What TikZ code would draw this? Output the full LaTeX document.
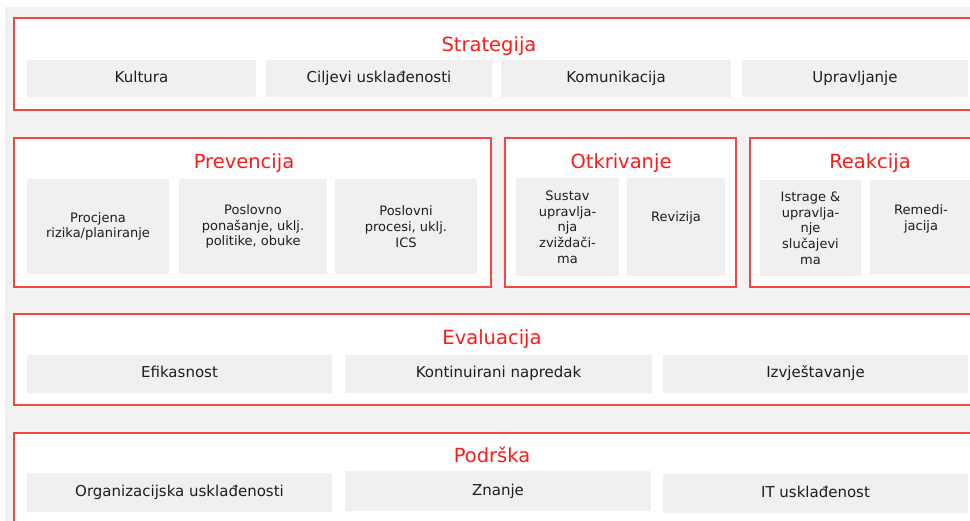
\documentclass[tikz,border=0pt]{standalone}
\usepackage{fontspec}
\setmainfont{DejaVu Sans}
\definecolor{bggray}{RGB}{242,242,242}
\definecolor{boxgray}{RGB}{240,240,240}
\definecolor{framered}{RGB}{245,70,70}
\definecolor{titlered}{RGB}{255,25,25}
\definecolor{txt}{RGB}{30,30,30}
\begin{document}
\begin{tikzpicture}[x=1pt,y=-1pt,
  frame/.style={draw=framered, line width=2pt, fill=white, inner sep=0pt, outer sep=0pt},
  inbox/.style={fill=boxgray, inner sep=0pt, outer sep=0pt, text=txt},
  big/.style={font=\fontsize{15}{18}\selectfont, text height=0.8em, text depth=0pt},
  small/.style={font=\fontsize{13}{15.7}\selectfont, align=center},
  lbl/.style={text=txt, inner sep=0pt, font=\fontsize{13}{15.7}\selectfont, align=center},
  title/.style={text=titlered, font=\fontsize{19.5}{23}\selectfont, anchor=base, inner sep=0pt}]
\useasboundingbox (0,0) rectangle (970,521);
\clip (0,0) rectangle (970,521);
\fill[white] (0,0) rectangle (970,521);
\fill[bggray] (5,7) rectangle (980,530);

% frames
\node[frame, minimum width=966, minimum height=92] (strat) at (497,64) {};
\node[frame, minimum width=477, minimum height=149] (prev) at (252.5,212.5) {};
\node[frame, minimum width=231, minimum height=149] (otkr) at (620.5,212.5) {};
\node[frame, minimum width=240, minimum height=149] (reak) at (870,212.5) {};
\node[frame, minimum width=966, minimum height=91] (eval) at (497,359.5) {};
\node[frame, minimum width=966, minimum height=107] (podr) at (497,486.5) {};

% titles
\node[title] (tstrat) at (489,52) {Strategija};
\node[title] (tprev) at (244,169) {Prevencija};
\node[title] (totkr) at (621,169) {Otkrivanje};
\node[title] (treak) at (870,169) {Reakcija};
\node[title] (teval) at (492,345) {Evaluacija};
\node[title] (tpodr) at (492,463) {Podrška};

% row 1
\node[inbox, big, minimum width=229, minimum height=37] (kult) at (141.5,78.5) {Kultura};
\node[inbox, big, minimum width=226, minimum height=37] (cilj) at (379,78.5) {Ciljevi usklađenosti};
\node[inbox, big, minimum width=230, minimum height=37] (komu) at (616,78.5) {Komunikacija};
\node[inbox, big, minimum width=226, minimum height=37] (uprav) at (855,78.5) {Upravljanje};

% row 2
\node[inbox, small, minimum width=142, minimum height=95] (proc) at (98,226.5) {Procjena\\rizika/planiranje};
\node[inbox, small, minimum width=148, minimum height=95] (posl) at (253,226.5) {Poslovno\\ponašanje, uklj.\\politike, obuke};
\node[inbox, small, minimum width=142, minimum height=95] (poslp) at (406,226.5) {Poslovni\\procesi, uklj.\\ICS};
\node[inbox, small, minimum width=103, minimum height=98] (sust) at (567.5,227) {Sustav\\upravlja-\\nja\\zviždači-\\ma};
\node[inbox, minimum width=98, minimum height=98] (rev) at (676,227) {};
\node[lbl] (trev) at ([yshift=9pt]rev.center) {Revizija};
\node[inbox, small, minimum width=101, minimum height=96] (istr) at (810.5,228) {Istrage \&\\upravlja-\\nje\\slučajevi\\ma};
\node[inbox, minimum width=102, minimum height=94] (remed) at (921,227) {};
\node[lbl] (tremed) at ([yshift=8pt]remed.center) {Remedi-\\jacija};

% row 3
\node[inbox, big, minimum width=305, minimum height=38] (efik) at (179.5,374) {Efikasnost};
\node[inbox, big, minimum width=307, minimum height=38] (kont) at (498.5,374) {Kontinuirani napredak};
\node[inbox, big, minimum width=305, minimum height=38] (izvj) at (815.5,374) {Izvještavanje};

% row 4
\node[inbox, big, minimum width=305, minimum height=39] (org) at (179.5,492.5) {Organizacijska usklađenosti};
\node[inbox, big, minimum width=306, minimum height=40] (znan) at (498,491) {Znanje};
\node[inbox, big, minimum width=305, minimum height=39] (it) at (815.5,493) {IT usklađenost};
\end{tikzpicture}
\end{document}
